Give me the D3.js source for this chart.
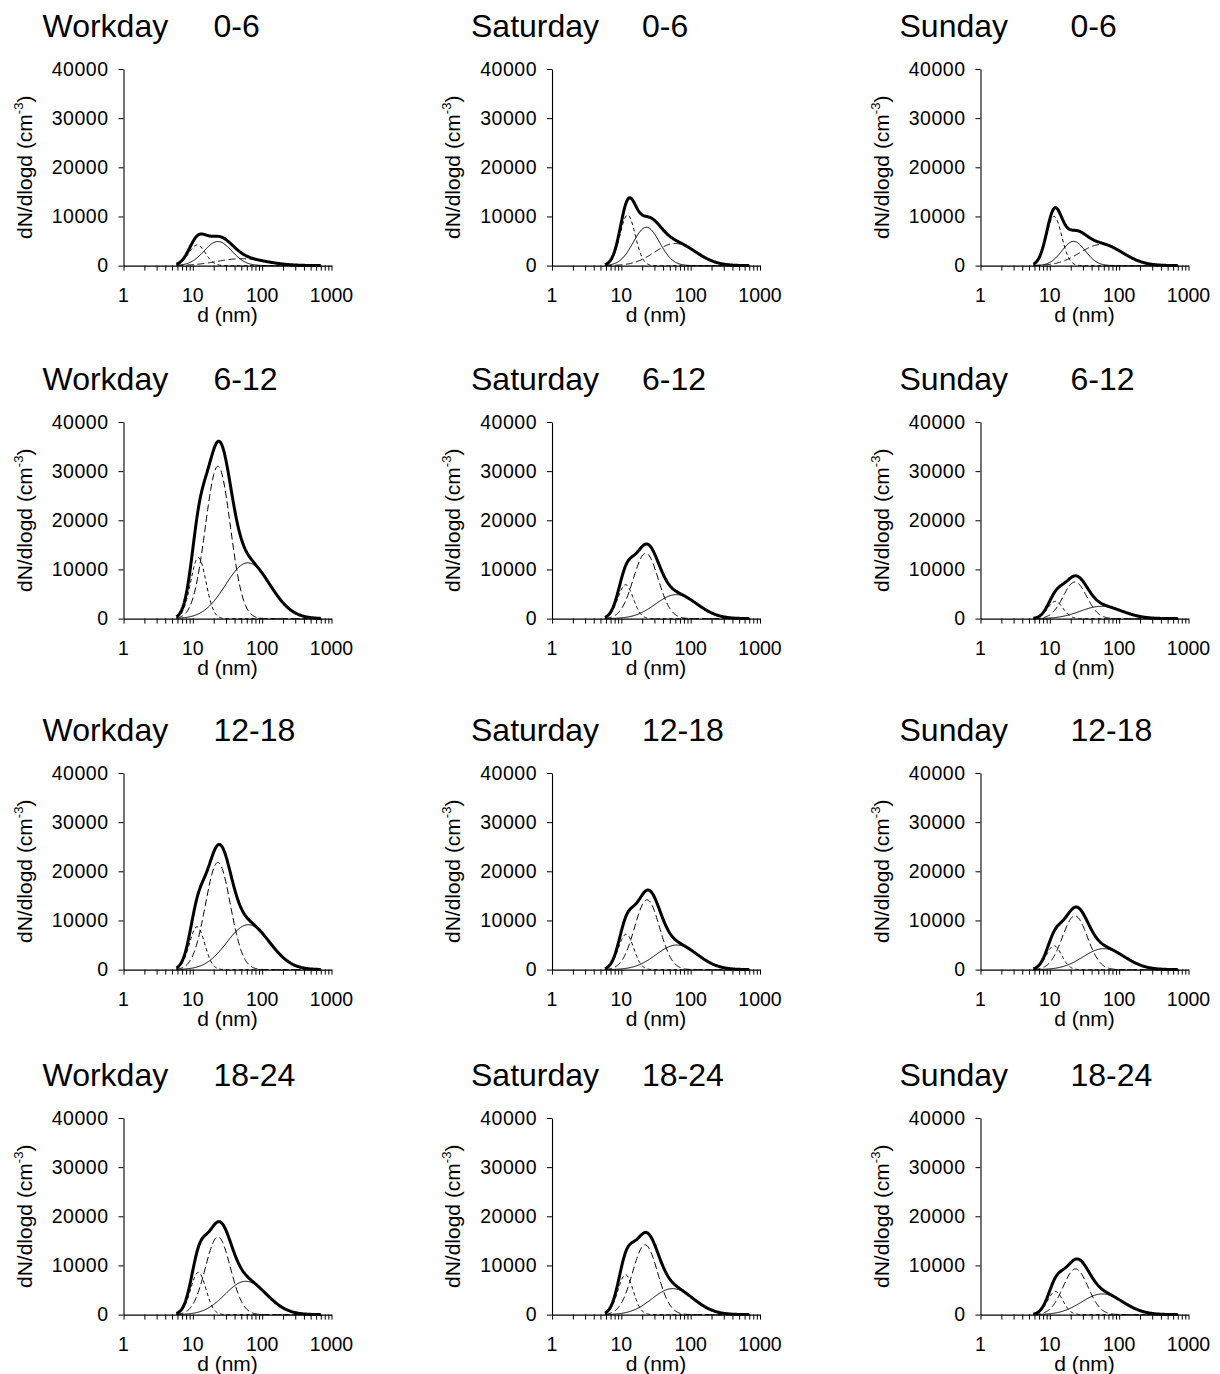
<!DOCTYPE html>
<html>
<head>
<meta charset="utf-8">
<script src="https://cdn.jsdelivr.net/npm/d3@7"></script>
<style>
  html, body { margin: 0; padding: 0; background: #fff; }
  svg { display: block; font-family: "Liberation Sans", Arial, Helvetica, sans-serif; }
</style>
</head>
<body>
<script>
// Day types (columns) and time-of-day windows (rows)
const days = ["Workday", "Saturday", "Sunday"];
const periods = ["0-6", "6-12", "12-18", "18-24"];

// Axis ticks
const yTicks = [0, 10000, 20000, 30000, 40000];
const xTicks = [1, 10, 100, 1000];

// Fitted lognormal modes of the number size distribution.
// Each table: rows = periods, columns = days.
// Peak height of dN/dlogd (cm^-3), geometric mean diameter (nm), log10 of geometric std. dev.
const nucPeak = [[4200, 10300, 10000], [12400, 6900, 3500], [8700, 7200, 4850], [8600, 8100, 4700]];
const nucDiam = [[11.5, 12.3, 11.5], [12, 11.5, 12], [11.5, 11.7, 11.5], [12, 11.5, 12]];
const nucWidth = [[0.12, 0.11, 0.11], [0.11, 0.11, 0.11], [0.11, 0.11, 0.11], [0.11, 0.11, 0.11]];

const aitPeak = [[4900, 7800, 4930], [31000, 13300, 7440], [21800, 14200, 10950], [15800, 14200, 9300]];
const aitDiam = [[23, 23, 22], [23, 22.5, 23], [23, 23.5, 23], [23, 22, 23.5]];
const aitWidth = [[0.20, 0.19, 0.17], [0.18, 0.18, 0.17], [0.18, 0.18, 0.18], [0.18, 0.18, 0.18]];

const accPeak = [[1400, 4500, 4300], [11350, 4870, 2500], [9130, 5000, 4260], [6780, 5290, 4200]];
const accDiam = [[50, 60, 55], [62, 62, 55], [63, 63, 60], [58, 55, 57]];
const accWidth = [[0.35, 0.30, 0.31], [0.32, 0.30, 0.30], [0.31, 0.30, 0.30], [0.30, 0.30, 0.30]];

// Measured size range (nm) over which the fits are plotted
const sizeRange = [5.8, 700];

// ---- layout ----
const colX = [123.5, 552, 980.5];
const rowTop = [69, 422, 773, 1118];
const W = 208, H = 196.6;

const svg = d3.select("body").append("svg")
  .attr("width", 1220).attr("height", 1374);

const lognormal = (d, peak, dg, s) => {
  const z = Math.log10(d / dg);
  return peak * Math.exp(-(z * z) / (2 * s * s));
};

// plotting grid, evenly spaced in log d
const nGrid = 240;
const grid = d3.range(nGrid + 1).map(i =>
  sizeRange[0] * Math.pow(sizeRange[1] / sizeRange[0], i / nGrid));

const dashShort = "3.5,3";
const dashLong = "7,3.5";

periods.forEach((period, r) => {
  days.forEach((day, c) => {
    const x = d3.scaleLog().domain([1, 1000]).range([0, W]);
    const y = d3.scaleLinear().domain([0, 40000]).range([H, 0]);

    const g = svg.append("g")
      .attr("transform", `translate(${colX[c]},${rowTop[r]})`);

    // panel title
    svg.append("text")
      .attr("x", colX[c] - 81).attr("y", rowTop[r] - 32)
      .attr("font-size", 32).attr("fill", "#000")
      .text(day);
    svg.append("text")
      .attr("x", colX[c] + 90).attr("y", rowTop[r] - 32)
      .attr("font-size", 32).attr("fill", "#000")
      .text(period);

    // y axis
    const ya = g.append("g")
      .call(d3.axisLeft(y).tickValues(yTicks).tickSize(5).tickSizeOuter(0)
        .tickPadding(10).tickFormat(d3.format("d")));
    ya.select(".domain").attr("stroke", "#000").attr("stroke-width", 1.1);
    ya.selectAll(".tick line").attr("stroke", "#000");
    ya.selectAll(".tick text").attr("font-size", 19.5).attr("fill", "#000")
      .attr("letter-spacing", 0.5).attr("font-family", null);

    // x axis (log ticks, labels only at decades)
    const xa = g.append("g").attr("transform", `translate(0,${H})`)
      .call(d3.axisBottom(x).tickValues(x.ticks()).tickSize(5).tickSizeOuter(0)
        .tickFormat(""));
    xa.select(".domain").attr("stroke", "#000").attr("stroke-width", 1.1);
    xa.selectAll(".tick line").attr("stroke", "#000");

    g.selectAll("text.xlab").data(xTicks).join("text")
      .attr("class", "xlab")
      .attr("x", d => x(d)).attr("y", H + 36)
      .attr("text-anchor", "middle").attr("font-size", 19.5).attr("fill", "#000")
      .text(d => d);

    // axis titles
    g.append("text")
      .attr("x", W / 2).attr("y", H + 56)
      .attr("text-anchor", "middle").attr("font-size", 21).attr("fill", "#000")
      .text("d (nm)");

    const yt = g.append("text")
      .attr("transform", `translate(-92,${H / 2}) rotate(-90)`)
      .attr("text-anchor", "middle").attr("font-size", 21).attr("fill", "#000");
    yt.append("tspan").text("dN/dlogd (cm");
    yt.append("tspan").attr("dy", -9).attr("font-size", 13).text("-3");
    yt.append("tspan").attr("dy", 9).text(")");

    // modes
    const modes = [
      { peak: nucPeak[r][c], dg: nucDiam[r][c], s: nucWidth[r][c], dash: dashShort },
      { peak: aitPeak[r][c], dg: aitDiam[r][c], s: aitWidth[r][c], dash: r === 0 ? null : dashLong },
      { peak: accPeak[r][c], dg: accDiam[r][c], s: accWidth[r][c], dash: r === 0 ? dashLong : null }
    ];

    const line = d3.line().x(p => x(p[0])).y(p => y(p[1]));

    modes.forEach(m => {
      const pts = grid.map(d => [d, lognormal(d, m.peak, m.dg, m.s)]);
      g.append("path")
        .attr("d", line(pts))
        .attr("fill", "none").attr("stroke", "#000").attr("stroke-width", 1)
        .attr("stroke-dasharray", m.dash);
    });

    // total distribution = sum of modes
    const total = grid.map(d => [d, d3.sum(modes, m => lognormal(d, m.peak, m.dg, m.s))]);
    g.append("path")
      .attr("d", line(total))
      .attr("fill", "none").attr("stroke", "#000").attr("stroke-width", 3)
      .attr("stroke-linejoin", "round");
  });
});
</script>
</body>
</html>
